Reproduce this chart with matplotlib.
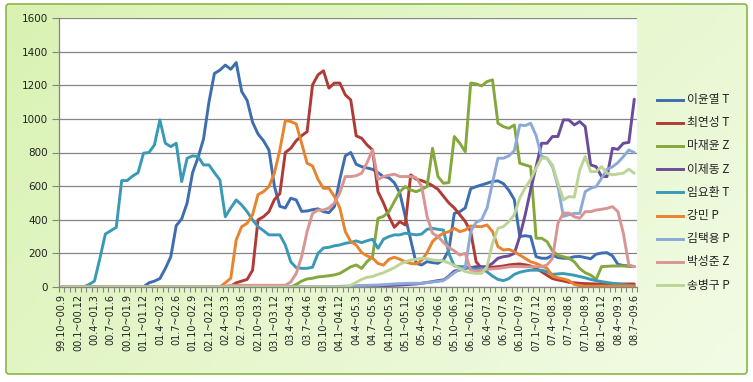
import numpy as np
import matplotlib.pyplot as plt
from matplotlib.patches import FancyBboxPatch
from matplotlib.lines import Line2D

# rolling 12-month windows, one label every 3 months
tick_labels = ['99.10~00.9', '00.1~00.12', '00.4~01.3', '00.7~01.6', '00.10~01.9', '01.1~01.12',
               '01.4~02.3', '01.7~02.6', '01.10~02.9', '02.1~02.12', '02.4~03.3', '02.7~03.6',
               '02.10~03.9', '03.1~03.12', '03.4~04.3', '03.7~04.6', '03.10~04.9', '04.1~04.12',
               '04.4~05.3', '04.7~05.6', '04.10~05.9', '05.1~05.12', '05.4~06.3', '05.7~06.6',
               '05.10~06.9', '06.1~06.12', '06.4~07.3', '06.7~07.6', '06.10~07.9', '07.1~07.12',
               '07.4~08.3', '07.7~08.6', '07.10~08.9', '08.1~08.12', '08.4~09.3', '08.7~09.6']

names = ['이윤열 T', '최연성 T', '마재윤 Z', '이제동 Z', '임요환 T', '강민 P', '김택용 P', '박성준 Z', '송병구 P']
colors = ['#3e6db0', '#b03a36', '#84a83c', '#6b4c9a', '#3a9ab6', '#e8832e', '#8caad8', '#d99593', '#bcd597']

lee_yy = [0]*16 + [25, 35, 50, 110, 180, 365, 405, 500, 680, 770, 880, 1100, 1270, 1290, 1320, 1295, 1335, 1163, 1110, 980,
          910, 870, 815, 600, 480, 470, 528, 518, 450, 452, 460, 465, 448, 442, 478, 640, 780, 800, 730, 716,
          708, 700, 680, 657, 650, 620, 560, 420, 280, 141, 131, 151, 145, 141, 161, 220, 438, 448, 470, 585,
          597, 607, 617, 628, 631, 615, 575, 520, 300, 305, 300, 180, 171, 171, 190, 175, 171, 171, 180, 182,
          175, 168, 195, 202, 204, 185, 135, 128, 125, 121]
choi_ys = [0]*31 + [5, 25, 35, 45, 100, 400, 418, 448, 520, 555, 800, 825, 870, 900, 924, 1202, 1262, 1286, 1183,
           1213, 1213, 1143, 1113, 899, 885, 845, 815, 567, 500, 420, 355, 389, 369, 667, 641, 633, 620, 603, 581,
           540, 500, 470, 430, 390, 329, 150, 111, 115, 118, 121, 125, 131, 135, 137, 132, 125, 110, 91, 70,
           50, 42, 36, 28, 25, 22, 20, 19, 18, 18, 18, 18, 18, 18, 18, 18]
ma_jy = [0]*43 + [15, 35, 48, 52, 60, 63, 67, 72, 81, 100, 120, 131, 111, 151, 180, 409, 420, 448, 508,
         567, 597, 577, 567, 580, 597, 825, 657, 617, 621, 895, 855, 805, 1213, 1208, 1196, 1222, 1232, 974, 954,
         944, 964, 736, 726, 716, 290, 290, 270, 215, 188, 180, 171, 150, 110, 85, 71, 46, 121, 123, 125,
         125, 125, 123, 121]
lee_jd = [0]*50 + [2, 3, 3, 4, 4, 5, 5, 6, 7, 8, 9, 10, 12, 14, 16, 18, 22, 27, 32, 38,
          42, 65, 95, 101, 111, 115, 121, 121, 121, 141, 171, 180, 185, 200, 300, 430, 580, 716, 855, 855,
          895, 895, 994, 994, 964, 984, 954, 726, 716, 657, 657, 825, 819, 855, 860, 1117]
lim_yh = [0, 0, 0, 0, 0, 15, 35, 170, 315, 335, 355, 633, 633, 660, 680, 796, 800, 845, 994, 855,
          835, 855, 627, 766, 780, 776, 726, 726, 680, 637, 418, 470, 518, 488, 448, 399, 359, 335, 310, 310,
          310, 250, 150, 115, 111, 111, 118, 200, 232, 236, 245, 250, 260, 265, 274, 264, 275, 284, 230, 284,
          300, 310, 310, 320, 315, 310, 315, 343, 349, 343, 339, 200, 125, 121, 121, 111, 105, 111, 90, 65,
          45, 38, 50, 75, 88, 95, 100, 100, 100, 91, 75, 78, 80, 75, 70, 62, 55, 45, 38, 32,
          27, 22, 18, 14, 10, 6]
kang_m = [0]*30 + [25, 52, 280, 359, 379, 430, 550, 567, 597, 677, 815, 990, 984, 970, 855, 736, 720, 640, 587, 587,
          538, 470, 330, 270, 250, 205, 185, 172, 140, 130, 165, 177, 165, 150, 140, 137, 158, 205, 270, 300,
          320, 329, 349, 329, 339, 363, 360, 359, 369, 330, 240, 220, 224, 210, 190, 170, 150, 140, 125, 111,
          65, 55, 48, 38, 15, 8, 5, 5, 5, 5, 5, 5, 5, 5, 5, 5]
kim_ty = [0]*48 + [1, 2, 3, 4, 5, 6, 8, 9, 10, 11, 12, 14, 16, 18, 20, 21, 22, 22, 22, 26,
          30, 33, 38, 60, 85, 105, 115, 330, 385, 400, 470, 620, 766, 766, 780, 810, 964, 960, 974, 900,
          776, 766, 716, 600, 420, 430, 438, 438, 567, 587, 597, 647, 700, 715, 740, 776, 815, 800]
park_sj = [0]*30 + [5, 10, 10, 10, 10, 10, 10, 10, 10, 10, 10, 10, 30, 80, 180, 330, 438, 458, 458, 470,
           500, 560, 657, 657, 662, 677, 740, 815, 640, 657, 665, 671, 657, 657, 657, 650, 600, 420, 320, 300,
           265, 235, 215, 190, 200, 100, 95, 100, 105, 108, 110, 115, 120, 122, 122, 120, 120, 121, 121, 131,
           170, 379, 440, 440, 418, 409, 448, 448, 458, 462, 468, 478, 448, 319, 131, 121]
song_bg = [0]*53 + [10, 28, 45, 58, 62, 75, 85, 100, 115, 135, 150, 160, 165, 171, 168, 161, 158, 155,
           143, 128, 110, 92, 85, 81, 81, 121, 260, 349, 359, 390, 430, 530, 590, 640, 707, 766, 766, 726,
           617, 518, 538, 534, 696, 776, 686, 686, 716, 677, 667, 672, 677, 701, 677]

series = [lee_yy, choi_ys, ma_jy, lee_jd, lim_yh, kang_m, kim_ty, park_sj, song_bg]

W, H = 753, 382
fig = plt.figure(figsize=(W / 100, H / 100), dpi=100, facecolor='white')

# pale green chart area, greener towards the bottom-left corner
bg = fig.add_axes([0, 0, 1, 1], zorder=-10)
bg.set_xlim(0, W)
bg.set_ylim(H, 0)
bg.axis('off')
frame = FancyBboxPatch((6, 4), 741, 370, boxstyle='round,pad=0,rounding_size=3',
                       facecolor='none', edgecolor='#8cb446', lw=1.2)
bg.add_patch(frame)
gx, gy = np.meshgrid(np.linspace(0, 1, 200), np.linspace(0, 1, 100))
t = np.clip(0.65 * gx + 0.35 * (1 - gy), 0, 1)  # 0 at bottom-left, 1 at top-right
dark_c = np.array([0.85, 0.95, 0.70])
pale_c = np.array([0.95, 0.985, 0.90])
img = dark_c * (1 - t[..., None]) + pale_c * t[..., None]
im = bg.imshow(img, extent=(6, 747, 374, 4), origin='lower', aspect='auto', zorder=0)
im.set_clip_path(frame)

ax = fig.add_axes([59 / W, 1 - 287 / H, (637 - 59) / W, (287 - 18) / H])
ax.set_facecolor('white')
x = np.arange(len(lee_yy))
for vals, name, c in zip(series, names, colors):
    ax.plot(x, vals, color=c, lw=2.1, label=name, solid_joinstyle='round', solid_capstyle='round')

ax.set_xlim(-0.5, len(x) - 0.5)
ax.set_ylim(0, 1600)
ax.set_yticks(np.arange(0, 1601, 200))
ax.yaxis.grid(True, color='#858585', lw=0.9)
ax.set_axisbelow(True)
for s in ['top', 'right']:
    ax.spines[s].set_visible(False)
for s in ['left', 'bottom']:
    ax.spines[s].set_color('#858585')
    ax.spines[s].set_linewidth(0.9)

ax.set_xticks(np.arange(0, len(x), 3))
ax.set_xticklabels(tick_labels, rotation=90, fontsize=7, color='#222222')
ax.set_xticks(np.arange(-0.5, len(x), 1), minor=True)
ax.tick_params(axis='x', which='major', length=0, pad=5)
ax.tick_params(axis='x', which='minor', length=3.5, color='#858585', width=0.8)
ax.tick_params(axis='y', length=5, color='#858585', width=0.8, labelsize=7.5, labelcolor='#222222', pad=3)

# legend on the right
for k, (name, c) in enumerate(zip(names, colors)):
    yp = 99.6 + 23.2 * k
    fig.add_artist(Line2D([657 / W, 683 / W], [1 - yp / H, 1 - yp / H], color=c, lw=2.1,
                          transform=fig.transFigure))
    fig.text(687 / W, 1 - yp / H, name, va='center', ha='left', fontsize=8.5, color='#222222',
             family=['Noto Sans CJK KR', 'DejaVu Sans'])

fig.savefig('out.png', dpi=100, facecolor='white')
